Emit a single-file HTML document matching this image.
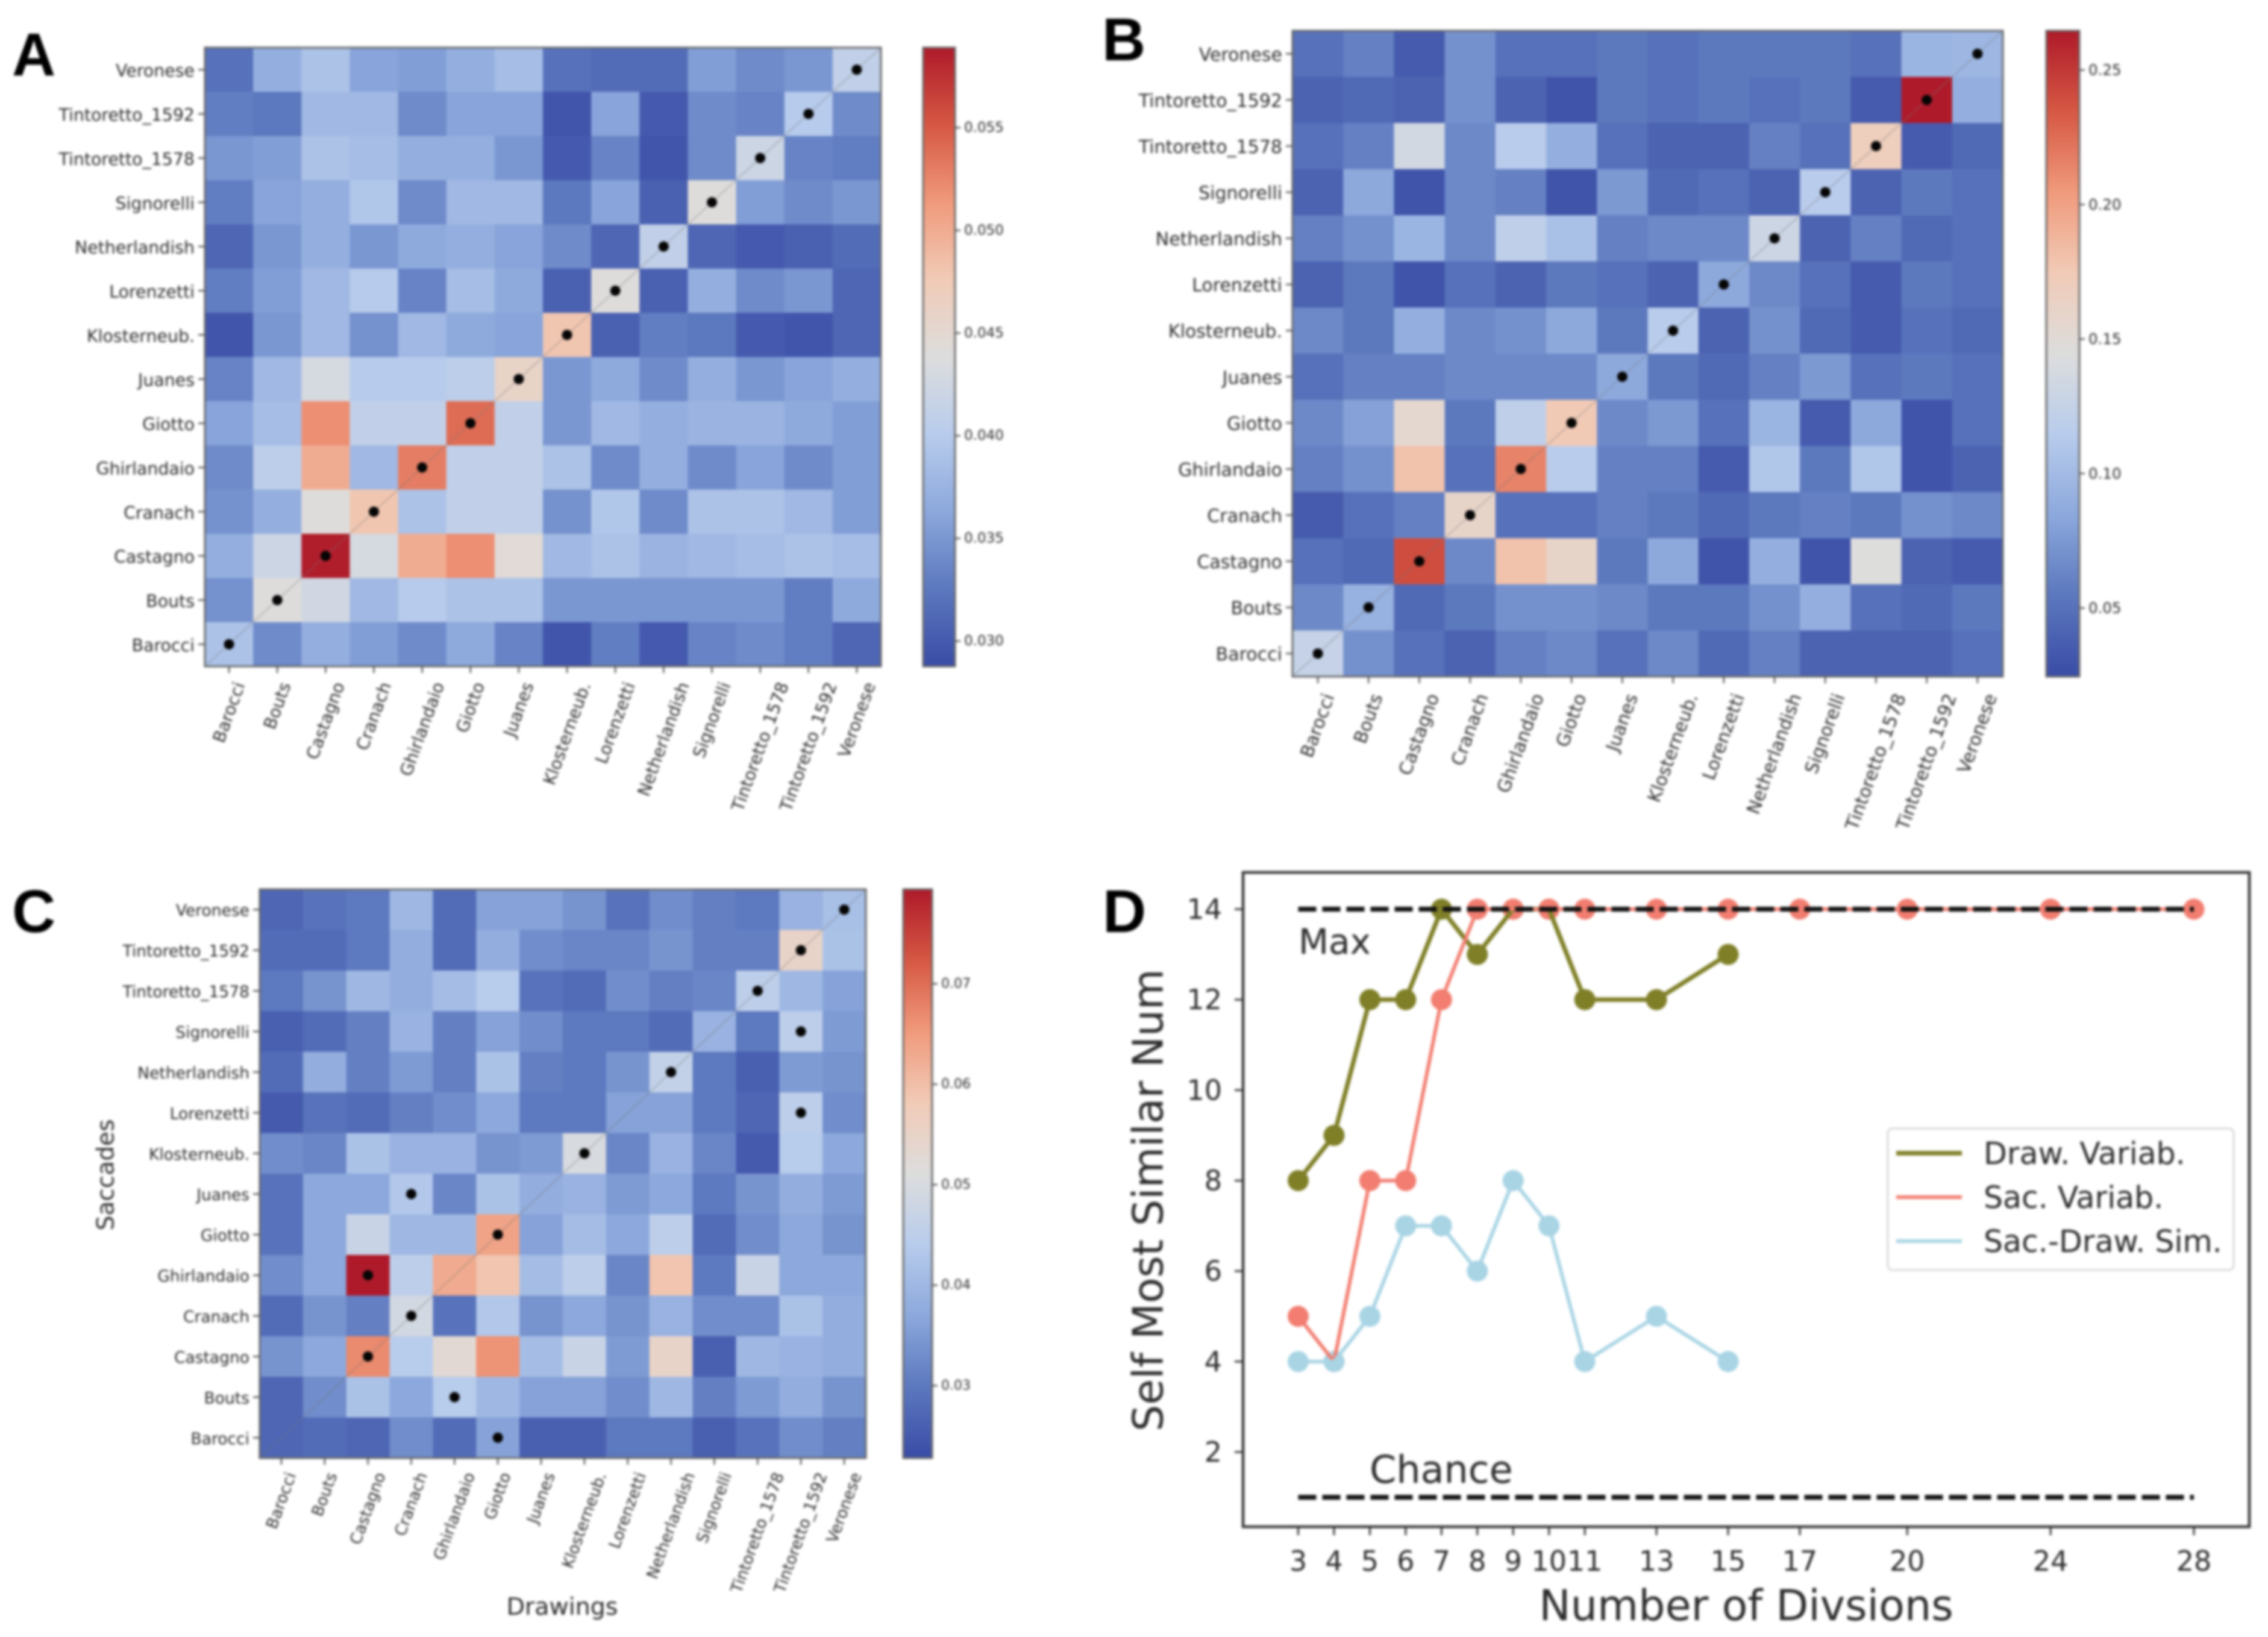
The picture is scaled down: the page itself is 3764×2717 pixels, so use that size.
<!DOCTYPE html>
<html lang="en">
<head>
<meta charset="utf-8">
<title>Painting similarity heatmaps and self-similarity chart</title>
<style>
html,body{margin:0;padding:0;background:#fff;}
#figure{display:block;width:3764px;height:2717px;filter:blur(2px);}
text{font-family:"DejaVu Sans","Liberation Sans",sans-serif;fill:#2b2b2b;}
.panel-letter{font-family:"Liberation Sans",sans-serif;font-weight:700;font-size:100px;fill:#000;}
</style>
</head>
<body>
<svg id="figure" xmlns="http://www.w3.org/2000/svg" width="3764" height="2717" viewBox="0 0 3764 2717">
  <rect x="0" y="0" width="3764" height="2717" fill="#ffffff"/>
  <text class="panel-letter" x="20" y="125">A</text>
  <text class="panel-letter" x="1829" y="100">B</text>
  <text class="panel-letter" x="20" y="1547">C</text>
  <text class="panel-letter" x="1830" y="1547">D</text>
</svg>
<script>
// ---------- data ----------
const painters = ["Barocci","Bouts","Castagno","Cranach","Ghirlandaio","Giotto","Juanes","Klosterneub.","Lorenzetti","Netherlandish","Signorelli","Tintoretto_1578","Tintoretto_1592","Veronese"];

// rows run top to bottom: Veronese ... Barocci; columns Barocci ... Veronese
const valuesA = [
[.032,.037,.039,.036,.0355,.037,.0385,.032,.0315,.0315,.0355,.034,.035,.041],
[.033,.0325,.038,.038,.034,.036,.036,.0295,.036,.030,.034,.0335,.040,.034],
[.035,.0355,.039,.0385,.037,.037,.035,.030,.0335,.0295,.034,.042,.0335,.033],
[.033,.036,.037,.0395,.034,.038,.038,.0325,.036,.0305,.044,.0355,.034,.035],
[.031,.035,.037,.035,.0365,.037,.036,.034,.031,.041,.031,.030,.0305,.0315],
[.033,.0355,.038,.040,.0335,.0385,.0365,.0305,.044,.0305,.037,.034,.035,.031],
[.0295,.035,.038,.0345,.038,.0365,.036,.048,.0305,.033,.0325,.030,.0295,.031],
[.0335,.038,.043,.040,.040,.0405,.046,.035,.0365,.034,.037,.035,.036,.037],
[.036,.0385,.052,.041,.041,.054,.041,.035,.038,.037,.0375,.0375,.0365,.0355],
[.034,.0405,.050,.038,.053,.041,.041,.039,.034,.037,.034,.036,.034,.0355],
[.0345,.037,.044,.048,.039,.041,.041,.0345,.0395,.034,.039,.039,.038,.0355],
[.037,.042,.0587,.043,.050,.052,.0445,.038,.039,.0375,.038,.0385,.039,.0385],
[.0345,.044,.0425,.038,.040,.039,.039,.035,.035,.035,.035,.035,.033,.0365],
[.039,.034,.037,.0355,.034,.0365,.0335,.0295,.033,.030,.0335,.034,.033,.031]
];
const valuesB = [
[.05,.06,.035,.07,.05,.05,.055,.05,.055,.055,.055,.05,.095,.096],
[.04,.045,.04,.07,.04,.03,.055,.05,.055,.05,.055,.035,.2646,.09],
[.05,.06,.135,.065,.115,.09,.05,.04,.04,.06,.05,.17,.035,.045],
[.04,.085,.03,.065,.06,.03,.075,.045,.05,.04,.115,.04,.055,.05],
[.06,.07,.095,.065,.12,.105,.06,.065,.065,.13,.04,.06,.045,.05],
[.04,.055,.03,.05,.04,.055,.05,.04,.085,.065,.05,.035,.055,.05],
[.065,.055,.09,.065,.07,.085,.055,.115,.04,.07,.045,.035,.05,.045],
[.05,.06,.06,.065,.065,.065,.085,.055,.045,.06,.075,.05,.055,.05],
[.065,.08,.155,.055,.12,.175,.065,.075,.05,.095,.035,.085,.03,.05],
[.06,.07,.18,.05,.215,.115,.06,.06,.035,.11,.055,.11,.03,.04],
[.035,.05,.06,.16,.05,.05,.06,.055,.045,.055,.06,.055,.07,.065],
[.05,.045,.24,.065,.18,.16,.055,.085,.03,.09,.03,.145,.04,.035],
[.065,.092,.045,.055,.07,.07,.065,.055,.055,.07,.09,.05,.045,.055],
[.125,.07,.05,.04,.06,.065,.05,.065,.045,.06,.04,.04,.04,.05]
];
const valuesC = [
[.027,.029,.030,.040,.028,.036,.036,.034,.029,.033,.031,.030,.039,.0415],
[.028,.028,.030,.038,.028,.038,.033,.032,.032,.034,.031,.031,.055,.042],
[.030,.034,.040,.038,.041,.044,.029,.028,.033,.031,.032,.045,.040,.036],
[.026,.028,.031,.039,.031,.036,.033,.030,.030,.028,.039,.030,.045,.035],
[.028,.038,.031,.035,.031,.042,.031,.030,.034,.046,.030,.026,.035,.034],
[.025,.029,.028,.031,.033,.037,.030,.030,.036,.036,.030,.027,.045,.033],
[.033,.032,.042,.039,.039,.034,.035,.050,.032,.039,.032,.025,.044,.037],
[.029,.037,.037,.043,.032,.042,.038,.039,.035,.037,.030,.034,.038,.035],
[.029,.037,.047,.040,.040,.064,.036,.041,.037,.045,.028,.033,.037,.034],
[.033,.037,.0794,.045,.063,.059,.041,.045,.032,.059,.030,.047,.037,.037],
[.028,.034,.031,.049,.029,.043,.034,.037,.034,.039,.033,.033,.042,.038],
[.034,.037,.067,.044,.053,.066,.041,.047,.035,.055,.026,.040,.039,.038],
[.027,.033,.042,.037,.044,.040,.036,.036,.033,.040,.031,.035,.038,.034],
[.027,.028,.027,.033,.028,.036,.026,.026,.030,.030,.026,.029,.033,.031]
];
const rangeA = [0.02877, 0.0589];
const rangeB = [0.0245, 0.2646];
const rangeC = [0.0228, 0.0794];
const colorbarTicksA = ["0.030","0.035","0.040","0.045","0.050","0.055"];
const colorbarTicksB = ["0.05","0.10","0.15","0.20","0.25"];
const colorbarTicksC = ["0.03","0.04","0.05","0.06","0.07"];

const divisions = [3,4,5,6,7,8,9,10,11,13,15,17,20,24,28];
const drawVariab = [8,9,12,12,14,13,14,14,12,12,13];
const sacVariab = [5,4,8,8,12,14,14,14,14,14,14,14,14,14,14];
const sacDrawSim = [4,4,5,7,7,6,8,7,4,5,4];
const yTicksD = [2,4,6,8,10,12,14];
const maxLevel = 14;
const chanceLevel = 1;

// ---------- helpers ----------
const svg = document.getElementById('figure');
const NS = 'http://www.w3.org/2000/svg';
function make(tag, attrs, parent) {
  const el = document.createElementNS(NS, tag);
  for (const k in attrs) el.setAttribute(k, attrs[k]);
  (parent || svg).appendChild(el);
  return el;
}
const cmapStops = [
  [0,[58,76,166]],[.125,[92,120,190]],[.25,[140,168,220]],[.375,[184,204,236]],
  [.5,[221,221,221]],[.625,[241,203,183]],[.75,[240,154,124]],[.875,[214,88,68]],[1,[174,26,42]]
];
function coolwarm(t) {
  t = Math.max(0, Math.min(1, t));
  for (let i = 1; i < cmapStops.length; i++) {
    if (t <= cmapStops[i][0]) {
      const a = cmapStops[i-1], b = cmapStops[i];
      const f = (t - a[0]) / (b[0] - a[0]);
      const c = a[1].map((v, j) => Math.round(v + (b[1][j] - v) * f));
      return 'rgb(' + c.join(',') + ')';
    }
  }
  return 'rgb(174,26,42)';
}
const gradient = make('linearGradient', {id:'cmap-gradient', x1:0, y1:1, x2:0, y2:0}, make('defs', {}));
cmapStops.forEach(s => make('stop', {offset:s[0], 'stop-color':'rgb(' + s[1].join(',') + ')'}, gradient));

function drawHeatmap(id, values, range, cbTicks, box) {
  const g = make('g', {});
  
  
  const n = painters.length;
  const cw = (box.x1 - box.x0) / n, ch = (box.y1 - box.y0) / values.length;
  const xCenter = c => box.x0 + (c + .5) * cw;
  const yCenter = r => box.y0 + (r + .5) * ch;
  const norm = v => (v - range[0]) / (range[1] - range[0]);
  values.forEach((row, r) => {
    row.forEach((v, c) => {
      const cell = make('rect', {x:box.x0 + c * cw, y:box.y0 + r * ch, width:cw + .5, height:ch + .5, fill:coolwarm(norm(v))}, g);
      
      
    });
  });
  const diag = make('line', {x1:box.x0, y1:box.y1, x2:box.x1, y2:box.y0, stroke:'#777', 'stroke-width':2.5, 'stroke-opacity':.3}, g);
  
  
  values.forEach((row, r) => {
    const col = row.indexOf(Math.max.apply(null, row));
    const dot = make('ellipse', {cx:xCenter(col), cy:yCenter(r), rx:8.5, ry:8.5, fill:'#050505'}, g);
    
    
  });
  const frame = make('rect', {x:box.x0, y:box.y0, width:box.x1 - box.x0, height:box.y1 - box.y0, fill:'none', stroke:'#666', 'stroke-width':3}, g);
  
  
  // y labels (top row is last painter)
  values.forEach((row, r) => {
    const y = yCenter(r);
    const tick = make('line', {x1:box.x0 - 11, x2:box.x0, y1:y, y2:y, stroke:'#555', 'stroke-width':2.5}, g);
    
    
    const label = make('text', {x:box.x0 - 17, y:y + 2, 'text-anchor':'end', 'dominant-baseline':'central', 'font-size':box.fs}, g);
    
    
    label.textContent = painters[n - 1 - r];
  });
  // x labels rotated 70 degrees, bbox-centred under their tick
  painters.forEach((name, c) => {
    const x = xCenter(c);
    const tick = make('line', {x1:x, x2:x, y1:box.y1, y2:box.y1 + 11, stroke:'#555', 'stroke-width':2.5}, g);
    
    
    const label = make('text', {x:0, y:0, 'text-anchor':'middle', 'dominant-baseline':'central', 'font-size':box.fs}, g);
    
    
    label.textContent = name;
    const L = label.getComputedTextLength();
    const h = L * Math.sin(70 * Math.PI / 180) + box.fs * 1.1 * Math.cos(70 * Math.PI / 180);
    label.setAttribute('transform', 'translate(' + x + ',' + (box.y1 + box.pad + h / 2) + ') rotate(-70)');
  });
  // colorbar
  const bar = make('rect', {x:box.cb0, y:box.y0, width:box.cb1 - box.cb0, height:box.y1 - box.y0, fill:'url(#cmap-gradient)', stroke:'#666', 'stroke-width':3}, g);
  
  
  cbTicks.forEach(t => {
    const y = box.y1 - norm(parseFloat(t)) * (box.y1 - box.y0);
    const tick = make('line', {x1:box.cb1, x2:box.cb1 + 9, y1:y, y2:y, stroke:'#555', 'stroke-width':2.5}, g);
    
    
    const label = make('text', {x:box.cb1 + 15, y:y, 'dominant-baseline':'central', 'font-size':box.cbFs}, g);
    
    
    label.textContent = t;
  });
  return g;
}

drawHeatmap('a', valuesA, rangeA, colorbarTicksA, {x0:340, x1:1462, y0:79, y1:1106, cb0:1532, cb1:1585, fs:28.4, cbFs:23, pad:22});
drawHeatmap('b', valuesB, rangeB, colorbarTicksB, {x0:2145, x1:3324, y0:51, y1:1123, cb0:3396, cb1:3451, fs:30, cbFs:24.5, pad:24});
const panelC = drawHeatmap('c', valuesC, rangeC, colorbarTicksC, {x0:431, x1:1437, y0:1476, y1:2420, cb0:1499, cb1:1547, fs:26.5, cbFs:22, pad:20});

const cXLabel = make('text', {x:933, y:2680, 'text-anchor':'middle', 'font-size':39.5}, panelC);


cXLabel.textContent = 'Drawings';
const cYLabel = make('text', {x:0, y:0, 'text-anchor':'middle', 'dominant-baseline':'central', 'font-size':39, transform:'translate(176,1950) rotate(-90)'}, panelC);


cYLabel.textContent = 'Saccades';

// ---------- panel D ----------
const dBox = {x0:2063, x1:3733, y0:1448, y1:2534};
const dx = v => 2154.5 + (v - 3) * (3641 - 2154.5) / 25;
const dy = v => 2410 + (v - 2) * (1509 - 2410) / 12;
const gD = make('g', {});


const oliveC = '#7f7f28', salmonC = '#f27d70', blueC = '#a8d4e4';
const seriesD = [
  {name:'draw-variab', data:drawVariab, color:oliveC, w:7.5},
  {name:'sac-variab', data:sacVariab, color:salmonC, w:6},
  {name:'sac-draw-sim', data:sacDrawSim, color:blueC, w:6}
];
seriesD.forEach(s => {
  s.data.forEach((v, i) => {
    const pt = make('circle', {cx:dx(divisions[i]), cy:dy(v), r:17.5, fill:s.color}, gD);
    
    
  });
});
seriesD.forEach(s => {
  const pts = s.data.map((v, i) => dx(divisions[i]) + ',' + dy(v)).join(' ');
  const line = make('polyline', {points:pts, fill:'none', stroke:s.color, 'stroke-width':s.w, 'stroke-linejoin':'round'}, gD);
  
  
});
const maxLine = make('line', {x1:dx(3), x2:dx(28), y1:dy(maxLevel), y2:dy(maxLevel), stroke:'#111', 'stroke-width':8, 'stroke-dasharray':'30 10'}, gD);


const chanceLine = make('line', {x1:dx(3), x2:dx(28), y1:dy(chanceLevel), y2:dy(chanceLevel), stroke:'#111', 'stroke-width':8, 'stroke-dasharray':'30 10'}, gD);


const maxText = make('text', {x:2155, y:1583, 'font-size':58}, gD);


maxText.textContent = 'Max';
const chanceText = make('text', {x:2273, y:2461, 'font-size':63.5}, gD);


chanceText.textContent = 'Chance';
const dFrame = make('rect', {x:dBox.x0, y:dBox.y0, width:dBox.x1 - dBox.x0, height:dBox.y1 - dBox.y0, fill:'none', stroke:'#333', 'stroke-width':4.5}, gD);


divisions.forEach(v => {
  const x = dx(v);
  const tick = make('line', {x1:x, x2:x, y1:dBox.y1, y2:dBox.y1 + 14, stroke:'#333', 'stroke-width':3}, gD);
  
  
  const label = make('text', {x:x, y:2607, 'text-anchor':'middle', 'font-size':46}, gD);
  
  
  label.textContent = v;
});
yTicksD.forEach(v => {
  const y = dy(v);
  const tick = make('line', {x1:dBox.x0 - 14, x2:dBox.x0, y1:y, y2:y, stroke:'#333', 'stroke-width':3}, gD);
  
  
  const label = make('text', {x:2028, y:y, 'text-anchor':'end', 'dominant-baseline':'central', 'font-size':46}, gD);
  
  
  label.textContent = v;
});
const dXTitle = make('text', {x:2898, y:2689, 'text-anchor':'middle', 'font-size':70}, gD);


dXTitle.textContent = 'Number of Divsions';
const dYTitle = make('text', {x:0, y:0, 'text-anchor':'middle', 'dominant-baseline':'central', 'font-size':69.5, transform:'translate(1906,1992) rotate(-90)'}, gD);


dYTitle.textContent = 'Self Most Similar Num';
// legend
const legend = make('g', {}, gD);


const legendBox = make('rect', {x:3133, y:1873, width:574, height:235, rx:8, fill:'#fff', stroke:'#dcdcdc', 'stroke-width':3.5}, legend);


const legendLabels = ['Draw. Variab.','Sac. Variab.','Sac.-Draw. Sim.'];
legendLabels.forEach((t, i) => {
  const y = 1914 + i * 73;
  const handle = make('line', {x1:3147, x2:3256, y1:y, y2:y, stroke:seriesD[i].color, 'stroke-width':seriesD[i].w}, legend);
  
  
  const label = make('text', {x:3292, y:y + 18, 'font-size':50.5}, legend);
  
  
  label.textContent = t;
});
</script>
</body>
</html>
